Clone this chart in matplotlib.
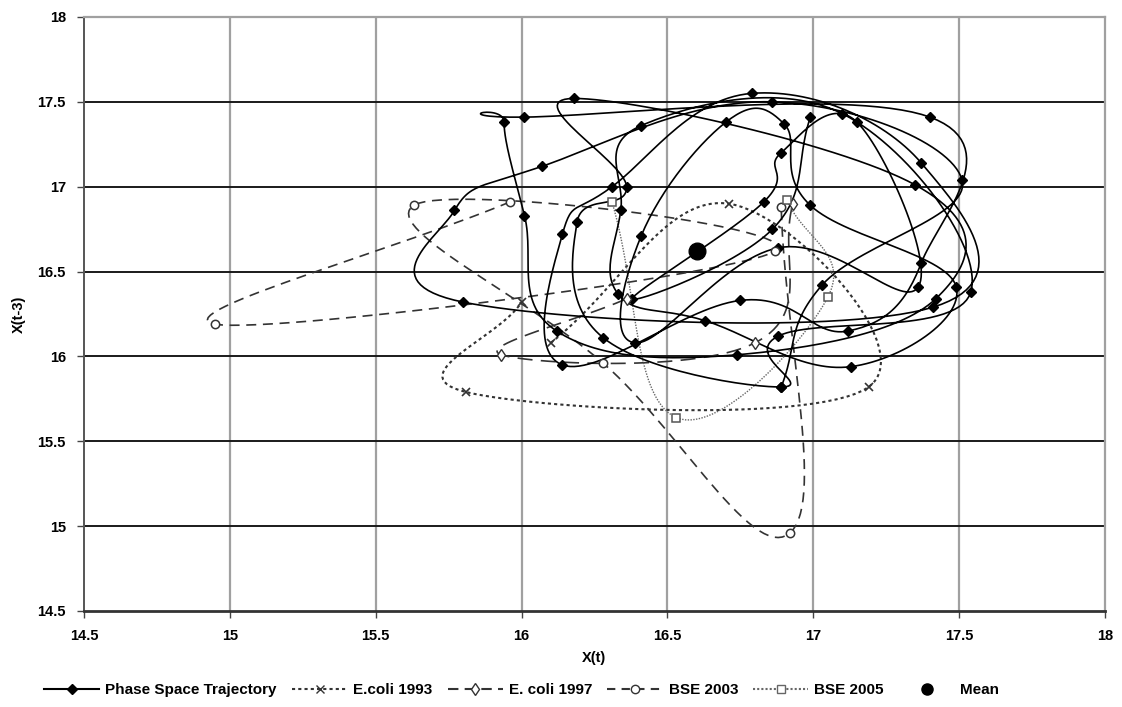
import numpy as np
import matplotlib
matplotlib.use("Agg")
import matplotlib.pyplot as plt
from matplotlib import font_manager
from matplotlib.lines import Line2D

# ---------------- data ----------------
phase_x = [16.89, 17.03, 17.51, 16.86, 16.07, 15.77, 15.80, 17.41, 17.37, 16.79,
           16.31, 16.14, 16.14, 16.75, 17.12, 17.37, 17.40, 16.01, 15.94, 16.01,
           16.12, 16.74, 17.42, 17.35, 16.18, 16.36, 16.19, 16.28, 16.89, 16.88,
           17.54, 17.10, 16.41, 16.34, 16.33, 16.63, 17.13, 17.49, 16.99, 16.90,
           16.70, 16.41, 16.39, 16.88, 17.36, 17.15, 16.89, 16.83, 16.38, 16.86, 16.99]
phase_y = [15.82, 16.42, 17.04, 17.50, 17.12, 16.86, 16.32, 16.29, 17.14, 17.55,
           17.00, 16.72, 15.95, 16.33, 16.15, 16.55, 17.41, 17.41, 17.38, 16.83,
           16.15, 16.01, 16.34, 17.01, 17.52, 17.00, 16.79, 16.11, 15.82, 16.12,
           16.38, 17.43, 17.36, 16.86, 16.37, 16.21, 15.94, 16.41, 16.89, 17.37,
           17.38, 16.71, 16.08, 16.64, 16.41, 17.38, 17.20, 16.91, 16.34, 16.75, 17.41]

ecoli93_x = [16.10, 16.71, 17.19, 15.81, 16.00]
ecoli93_y = [16.08, 16.90, 15.82, 15.79, 16.32]

ecoli97_x = [16.36, 15.93, 16.80, 16.93]
ecoli97_y = [16.34, 16.01, 16.08, 16.90]

bse03_x = [15.96, 14.95, 16.87, 15.63, 16.28, 16.92, 16.89]
bse03_y = [16.91, 16.19, 16.62, 16.89, 15.96, 14.96, 16.88]

bse05_x = [16.31, 16.53, 17.05, 16.91]
bse05_y = [16.91, 15.64, 16.35, 16.92]

mean_x = [16.60]
mean_y = [16.62]

x_ticks = [14.5, 15, 15.5, 16, 16.5, 17, 17.5, 18]
y_ticks = [14.5, 15, 15.5, 16, 16.5, 17, 17.5, 18]
tick_labels = ["14.5", "15", "15.5", "16", "16.5", "17", "17.5", "18"]

# ---------------- fonts ----------------
avail = {f.name for f in font_manager.fontManager.ttflist}
fam = [f for f in ["Liberation Sans Narrow", "Liberation Sans", "DejaVu Sans"] if f in avail]
plt.rcParams['font.family'] = fam


def smooth(xs, ys, n=30, k=5.0):
    """Cardinal-spline smoothing like a spreadsheet 'smoothed line'."""
    p = np.column_stack([xs, ys]).astype(float)
    if len(p) < 3:
        return p[:, 0], p[:, 1]
    ext = np.vstack([2 * p[0] - p[1], p, 2 * p[-1] - p[-2]])
    out = []
    t = np.linspace(0, 1, n, endpoint=False)[:, None]
    for i in range(1, len(ext) - 2):
        p0, p1, p2, p3 = ext[i - 1], ext[i], ext[i + 1], ext[i + 2]
        c1 = p1 + (p2 - p0) / k
        c2 = p2 - (p3 - p1) / k
        seg = ((1 - t) ** 3) * p1 + 3 * ((1 - t) ** 2) * t * c1 + 3 * (1 - t) * t ** 2 * c2 + t ** 3 * p2
        out.append(seg)
    out.append(p[-1][None, :])
    out = np.vstack(out)
    return out[:, 0], out[:, 1]


fig = plt.figure(figsize=(11.22, 7.07), dpi=100)
ax = fig.add_axes([84 / 1122, 1 - 611 / 707, (1105 - 84) / 1122, (611 - 17) / 707])

ax.set_xlim(14.5, 18)
ax.set_ylim(14.5, 18)
ax.set_xticks(x_ticks)
ax.set_yticks(y_ticks)
ax.set_xticklabels(tick_labels, fontsize=10.5, fontweight='bold')
ax.set_yticklabels(tick_labels, fontsize=10.5, fontweight='bold')

# grid
for xv in x_ticks[1:-1]:
    ax.axvline(xv, color='#a0a0a0', lw=1.6, zorder=0)
for yv in y_ticks[1:-1]:
    ax.axhline(yv, color='#1a1a1a', lw=1.4, zorder=0)
for s in ['top', 'right']:
    ax.spines[s].set_color('#a0a0a0')
    ax.spines[s].set_linewidth(1.6)
ax.spines['left'].set_color('#555555')
ax.spines['left'].set_linewidth(1.4)
ax.spines['bottom'].set_color('#333333')
ax.spines['bottom'].set_linewidth(2.0)
ax.tick_params(axis='both', length=5, width=1.0, color='#444444', pad=8)

# series
sx, sy = smooth(phase_x, phase_y)
ax.plot(sx, sy, color='black', lw=1.2, zorder=3)
ax.plot(phase_x, phase_y, ls='none', marker='D', ms=5, color='black', zorder=4)

sx, sy = smooth(ecoli93_x, ecoli93_y)
ax.plot(sx, sy, color='#333333', lw=1.5, ls=(0, (1.5, 1.5)), zorder=2)
ax.plot(ecoli93_x, ecoli93_y, ls='none', marker='x', ms=6, mew=1.2, color='#333333', zorder=4)

sx, sy = smooth(ecoli97_x, ecoli97_y)
ax.plot(sx, sy, color='#333333', lw=1.2, ls=(0, (9, 5)), zorder=2)
ax.plot(ecoli97_x, ecoli97_y, ls='none', marker='d', ms=6, mfc='white', mec='#333333', mew=1.0, zorder=4)

sx, sy = smooth(bse03_x, bse03_y)
ax.plot(sx, sy, color='#333333', lw=1.2, ls=(0, (6, 4)), zorder=2)
ax.plot(bse03_x, bse03_y, ls='none', marker='o', ms=6, mfc='white', mec='#333333', mew=1.1, zorder=4)

sx, sy = smooth(bse05_x, bse05_y)
ax.plot(sx, sy, color='#666666', lw=1.0, ls=(0, (1, 1)), zorder=2)
ax.plot(bse05_x, bse05_y, ls='none', marker='s', ms=6, mfc='white', mec='#555555', mew=1.1, zorder=4)

ax.plot(mean_x, mean_y, ls='none', marker='o', ms=12, color='black', zorder=5)

ax.set_xlabel("X(t)", fontsize=10.5, fontweight='bold', labelpad=6)
ax.set_ylabel("X(t-3)", fontsize=10.5, fontweight='bold', labelpad=8)

# legend
handles = [
    Line2D([], [], color='black', lw=1.5, marker='D', ms=5),
    Line2D([], [], color='#333333', lw=1.5, ls=(0, (1.5, 1.5)), marker='x', ms=6),
    Line2D([], [], color='#333333', lw=1.5, ls=(0, (5, 3)), marker='d', ms=6, mfc='white'),
    Line2D([], [], color='#333333', lw=1.5, ls=(0, (4, 3)), marker='o', ms=6, mfc='white'),
    Line2D([], [], color='#666666', lw=1.5, ls=(0, (1, 1)), marker='s', ms=6, mfc='white'),
    Line2D([], [], color='black', ls='none', marker='o', ms=8),
]
labels = ["Phase Space Trajectory", "E.coli 1993", "E. coli 1997", "BSE 2003", "BSE 2005", "Mean"]
fig.legend(handles, labels, loc='center', bbox_to_anchor=(0.465, 1 - 690 / 707), ncol=6,
           frameon=False, handlelength=3.6, columnspacing=1.0, handletextpad=0.4,
           prop={'weight': 'bold', 'size': 11})

fig.savefig("out.png", dpi=100)
